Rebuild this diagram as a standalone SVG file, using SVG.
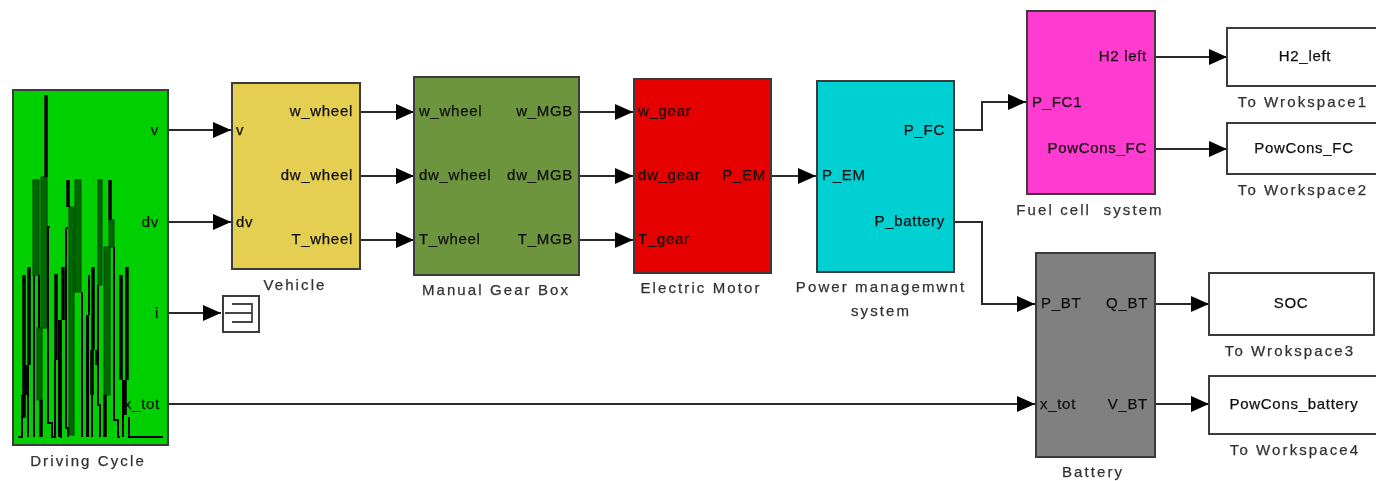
<svg xmlns="http://www.w3.org/2000/svg" width="1376" height="481" viewBox="0 0 1376 481">
<defs>
<marker id="arrow" markerUnits="userSpaceOnUse" markerWidth="19" markerHeight="18" refX="18" refY="8" orient="auto"><path d="M0 0L18 8L0 16Z" fill="#000"/></marker>
<filter id="soft" x="-2%" y="-2%" width="104%" height="104%"><feGaussianBlur stdDeviation="0.5"/></filter>
</defs>
<style>
text{font-family:"Liberation Sans",Arial,sans-serif;font-size:15px;letter-spacing:.7px;fill:#111;stroke:#111;stroke-width:.25px}
.cap{fill:#333;stroke:#333;letter-spacing:2.1px}
.b{stroke:#3a3a3a;stroke-width:2}
.w{fill:#fff}
.m{text-anchor:middle}
.e{text-anchor:end}
.c{fill:none;stroke:#2b2b2b;stroke-width:2;marker-end:url(#arrow)}
.k{fill:none;stroke:#000;stroke-width:2}
.h{fill:none;stroke:#000;stroke-width:3.5}
.g{fill:#006800;stroke:#003c00;stroke-width:1}
</style>
<rect width="1376" height="481" fill="#fff"/>
<g filter="url(#soft)">
<g id="connectors">
<path class="c" d="M168 130H231"/>
<path class="c" d="M168 222H231"/>
<path class="c" d="M168 313H221"/>
<path class="c" d="M168 404H1035"/>
<path class="c" d="M360 112H414"/>
<path class="c" d="M360 176H414"/>
<path class="c" d="M360 240H414"/>
<path class="c" d="M579 112H633"/>
<path class="c" d="M579 176H633"/>
<path class="c" d="M579 240H633"/>
<path class="c" d="M771 176H816"/>
<path class="c" d="M954 130H982V102H1026"/>
<path class="c" d="M954 222H982V304H1035"/>
<path class="c" d="M1155 57H1227"/>
<path class="c" d="M1155 149H1227"/>
<path class="c" d="M1155 304H1209"/>
<path class="c" d="M1155 404H1209"/>
</g>
<g id="driving-cycle">
<rect class="b" x="13" y="90" width="155" height="355" fill="#00d000"/>
<g id="scope-trace">
<rect class="g" x="33" y="180" width="6" height="95"/>
<rect class="g" x="37" y="328" width="5" height="72"/>
<rect class="g" x="41" y="177" width="6" height="151"/>
<rect class="g" x="69" y="207" width="5" height="228"/>
<rect class="g" x="75" y="180" width="6" height="112"/>
<rect class="g" x="98" y="180" width="4" height="105"/>
<rect class="g" x="104" y="247" width="6" height="148"/>
<rect class="g" x="109" y="220" width="5" height="27"/>
<path class="h" d="M46 95V177M24 275V418M29 267V365M26 365V395M41 400V437M56 274V360M63 267V320M68 180V207M93 267V350M92 350V395M97 350V365M110 180V220M105 395V437M121 275V380M127 267V380M125 380V415"/>
<path class="k" d="M18 437H22V395M28 365V437M34 275V437M39 275V328M50 227H48V423H52V437H56M55 360V437M59 320V437M61 320V437H62M66 228H68M66 228V428H68V437M82 292V437M87 315V437M89 275V315M88 315V437M92 395V437M98 285V405H100V437M114 247V420H118V437H120M123 380V437M129 417V437H163"/>
</g>
<text class="e" x="159" y="135">v</text>
<text class="e" x="159" y="227">dv</text>
<text class="e" x="159" y="318">i</text>
<text class="e" x="160" y="409">x_tot</text>
<text class="cap m" x="88" y="466">Driving Cycle</text>
</g>
<g id="vehicle">
<rect class="b" x="232" y="83" width="128" height="186" fill="#e5cf52"/>
<text x="236" y="135">v</text><text x="236" y="227">dv</text>
<text class="e" x="353" y="116">w_wheel</text><text class="e" x="353" y="180">dw_wheel</text><text class="e" x="353" y="244">T_wheel</text>
<text class="cap m" x="295" y="290">Vehicle</text>
</g>
<g id="terminator">
<rect class="b w" x="223" y="296" width="36" height="36"/>
<path fill="none" stroke="#444" stroke-width="1.8" d="M225 313H252M232 304H252V322H232"/>
</g>
<g id="manual-gear-box">
<rect class="b" x="414" y="77" width="165" height="198" fill="#6c953c"/>
<text x="419" y="116">w_wheel</text><text x="419" y="180">dw_wheel</text><text x="419" y="244">T_wheel</text>
<text class="e" x="573" y="116">w_MGB</text><text class="e" x="573" y="180">dw_MGB</text><text class="e" x="573" y="244">T_MGB</text>
<text class="cap m" x="496" y="295">Manual Gear Box</text>
</g>
<g id="electric-motor">
<rect class="b" x="634" y="79" width="137" height="194" fill="#e60000"/>
<text x="638" y="116">w_gear</text><text x="638" y="180">dw_gear</text><text x="638" y="244">T_gear</text>
<text class="e" x="766" y="180">P_EM</text>
<text class="cap m" x="701" y="293">Electric Motor</text>
</g>
<g id="power-management">
<rect class="b" x="817" y="81" width="137" height="191" fill="#00d0d2"/>
<text x="822" y="180">P_EM</text>
<text class="e" x="945" y="135">P_FC</text><text class="e" x="945" y="226">P_battery</text>
<text class="cap m" x="881" y="292">Power managemwnt</text>
<text class="cap m" x="881" y="316">system</text>
</g>
<g id="fuel-cell">
<rect class="b" x="1027" y="11" width="128" height="183" fill="#ff3bd0"/>
<text x="1032" y="107">P_FC1</text>
<text class="e" x="1147" y="61">H2 left</text><text class="e" x="1147" y="153">PowCons_FC</text>
<text class="cap m" x="1090" y="215" xml:space="preserve">Fuel cell  system</text>
</g>
<g id="battery">
<rect class="b" x="1036" y="253" width="119" height="204" fill="#808080"/>
<text x="1041" y="308">P_BT</text><text x="1040" y="409">x_tot</text>
<text class="e" x="1148" y="308">Q_BT</text><text class="e" x="1148" y="409">V_BT</text>
<text class="cap m" x="1093" y="477">Battery</text>
</g>
<g id="to-workspace1">
<path class="b w" d="M1378 28H1227V86H1378"/>
<text class="m" x="1305" y="61">H2_left</text>
<text class="cap m" x="1303" y="107">To Wrokspace1</text>
</g>
<g id="to-workspace2">
<path class="b w" d="M1378 123H1227V174H1378"/>
<text class="m" x="1304" y="153">PowCons_FC</text>
<text class="cap m" x="1303" y="195">To Workspace2</text>
</g>
<g id="to-workspace3">
<rect class="b w" x="1209" y="273" width="165" height="62"/>
<text class="m" x="1291" y="308">SOC</text>
<text class="cap m" x="1290" y="356">To Wrokspace3</text>
</g>
<g id="to-workspace4">
<path class="b w" d="M1378 376H1209V434H1378"/>
<text class="m" x="1294" y="409">PowCons_battery</text>
<text class="cap m" x="1295" y="455">To Workspace4</text>
</g>
</g>
</svg>
